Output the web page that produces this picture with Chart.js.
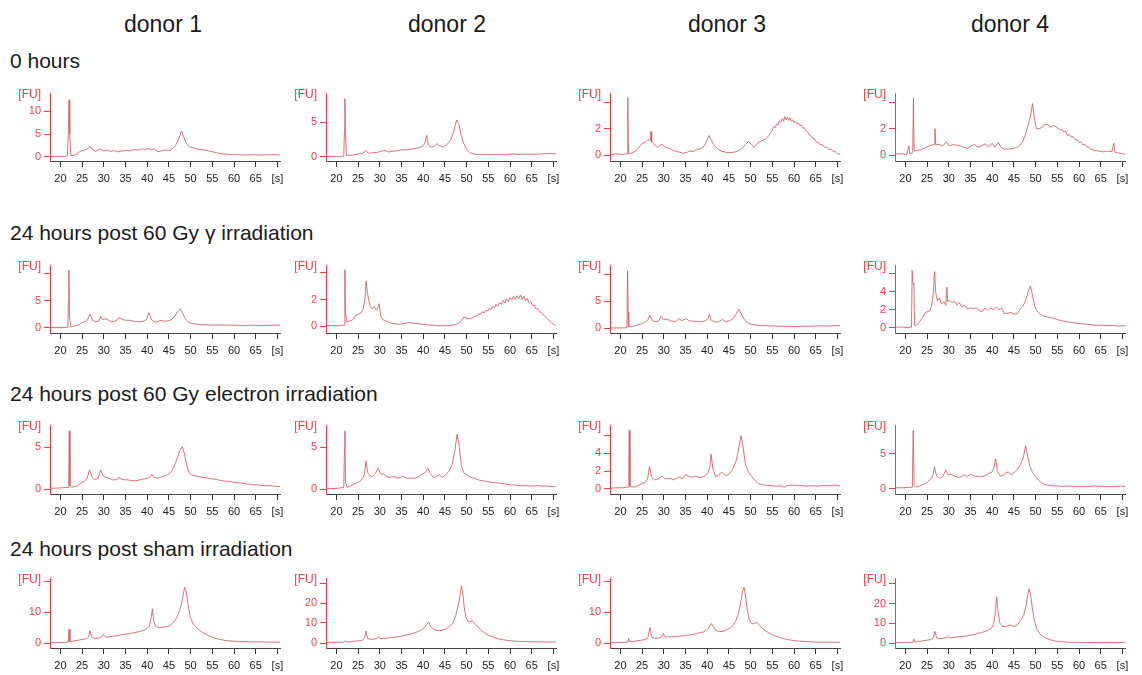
<!DOCTYPE html>
<html>
<head>
<meta charset="utf-8">
<script src="https://cdn.jsdelivr.net/npm/chart.js@4.4.1/dist/chart.umd.min.js"></script>
<style>
  body { margin: 0; background: #fff; width: 1142px; height: 675px; position: relative; overflow: hidden;
         font-family: "Liberation Sans", Arial, sans-serif; color: #1a1a1a; }
  .donor { position: absolute; top: 13px; width: 200px; text-align: center; font-size: 23px; line-height: 23px; }
  .cond { position: absolute; left: 10px; font-size: 21px; line-height: 21px; white-space: nowrap; }
  .panel { position: absolute; }
</style>
</head>
<body>
<script>
// column and row titles
const donors = ['donor 1', 'donor 2', 'donor 3', 'donor 4'];
const conditions = ['0 hours', '24 hours post 60 Gy γ irradiation',
    '24 hours post 60 Gy electron irradiation', '24 hours post sham irradiation'];

// x axis ticks, last one shows the unit
const timeTicks = [20, 25, 30, 35, 40, 45, 50, 55, 60, 65, 70];
const timeLabels = ['20', '25', '30', '35', '40', '45', '50', '55', '60', '65', '[s]'];

// y ticks per panel (row by row), '' = unlabeled tick
const fuTicks = [
    [0, 5, 10], [0, 5], [0, 2, 4], [0, 2, 4],
    [0, 5, 10], [0, 2, 4], [0, 5, 10], [0, 2, 4, 6],
    [0, 5], [0, 5], [0, 2, 4, 6], [0, 5],
    [0, 10, 20], [0, 10, 20, 30], [0, 10, 20], [0, 10, 20, 30]
];
const fuTickLabels = [
    ['0', '5', '10'], ['0', '5'], ['0', '2', ''], ['0', '2', ''],
    ['0', '5', ''], ['0', '2', ''], ['0', '5', ''], ['0', '2', '4', ''],
    ['0', '5'], ['0', '5'], ['0', '2', '4', ''], ['0', '5'],
    ['0', '10', ''], ['0', '10', '20', ''], ['0', '10', ''], ['0', '10', '20', '']
];

// electropherograms: [time (s), FU]
const d1_0h = [[17.6,0.1],[19,0.1],[20.5,0.1],[21.6,0.2],[21.85,6],[22.0,12.5],[22.15,5],[22.4,0.3],[23,0.3],[23.8,0.6],[24.5,1.2],[25.2,1.5],[26,1.6],[26.8,2.3],[27.4,1.6],[28.2,1.2],[29.2,1.8],[29.8,1.3],[30.6,1.5],[31.5,1.2],[32.4,1.4],[33.3,1.1],[34.2,1.3],[35.2,1.4],[36,1.3],[37,1.6],[38,1.5],[39,1.8],[39.6,1.5],[40.2,1.9],[41,1.5],[41.6,1.8],[42.5,1.1],[43.5,1.4],[44.5,1.5],[45.3,1.4],[46,2.0],[46.7,2.8],[47.3,4.0],[47.9,5.7],[48.5,4.2],[49.1,2.8],[49.8,2.2],[50.6,2.0],[51.5,1.7],[52.4,1.6],[53.3,1.5],[54.2,1.3],[55.1,1.1],[56,0.9],[57,0.7],[58,0.6],[59,0.5],[60,0.5],[61.5,0.45],[63,0.4],[64.5,0.5],[66,0.4],[67.5,0.45],[69,0.5],[70.6,0.4]];
const d2_0h = [[17.6,0.05],[19,0.05],[20.5,0.05],[21.7,0.1],[21.85,4],[21.95,8.4],[22.1,3],[22.3,0.2],[23,0.2],[24,0.3],[25,0.4],[26,0.5],[26.8,0.9],[27.4,0.5],[28.3,0.6],[29.2,0.6],[30.2,0.8],[31.3,0.9],[32,0.7],[33,0.8],[34,0.9],[35,1.0],[36,1.0],[37,1.1],[38,1.2],[39,1.3],[39.8,1.5],[40.4,2.0],[40.8,3.1],[41.2,1.7],[41.8,1.4],[42.5,1.5],[43.2,1.9],[43.8,1.6],[44.6,1.4],[45.5,1.8],[46.3,2.4],[47,3.6],[47.7,5.3],[48.2,4.8],[48.7,3.2],[49.3,2.0],[50,1.1],[50.8,0.6],[51.7,0.4],[53,0.3],[54.5,0.35],[56,0.3],[57.5,0.35],[59,0.3],[60.5,0.4],[62,0.35],[63.5,0.4],[65,0.35],[66.5,0.4],[68,0.45],[69.3,0.5],[70.6,0.4]];
const d3_0h = [[17.6,0.05],[19,0.1],[20.5,0.05],[21.55,0.1],[21.7,4.4],[21.85,0.1],[22.5,0.15],[23.5,0.3],[24.3,0.6],[25,0.9],[25.8,1.0],[26.4,1.2],[26.9,1.1],[27.05,1.8],[27.2,1.0],[27.8,0.8],[28.6,0.6],[29.6,0.85],[30.4,0.6],[31.3,0.5],[32.3,0.35],[33.3,0.25],[34.3,0.15],[35.2,0.2],[36,0.3],[37,0.3],[37.8,0.45],[38.6,0.5],[39.3,0.7],[39.9,1.1],[40.4,1.5],[40.9,1.2],[41.5,0.8],[42.3,0.5],[43.3,0.3],[44.5,0.2],[45.8,0.2],[47,0.3],[48,0.5],[48.8,0.8],[49.5,1.05],[50.2,0.8],[50.8,0.6],[51.6,0.9],[52.5,1.1],[53.4,1.2],[54.2,1.5],[54.6,1.7],[55,1.9],[55.3,2.2],[55.7,2.1],[56,2.4],[56.3,2.3],[56.6,2.6],[57,2.5],[57.3,2.8],[57.6,2.6],[57.9,2.95],[58.2,2.7],[58.5,2.9],[58.8,2.65],[59.1,2.85],[59.4,2.6],[59.7,2.7],[60,2.5],[60.3,2.6],[60.7,2.4],[61,2.45],[61.4,2.25],[61.7,2.3],[62.1,2.05],[62.4,2.1],[62.8,1.85],[63.2,1.75],[63.6,1.5],[64,1.45],[64.4,1.25],[64.8,1.2],[65.2,1.0],[65.6,1.0],[66,0.8],[66.5,0.8],[67,0.6],[67.5,0.6],[68,0.45],[68.5,0.45],[69,0.3],[69.5,0.25],[70,0.1],[70.6,0.05]];
const d4_0h = [[17.6,0.1],[19,0.1],[20.3,0.05],[20.8,0.7],[21.0,0.1],[21.7,0.2],[21.85,4.3],[22.0,0.3],[22.6,0.35],[23.5,0.4],[24.3,0.5],[25.2,0.65],[26,0.75],[26.6,0.8],[26.8,2.0],[27.0,0.8],[27.8,0.8],[28.6,0.7],[29.4,1.0],[30.1,0.7],[31,0.8],[31.8,0.75],[32.6,0.7],[33.4,0.6],[34.3,0.5],[35.2,0.7],[35.9,0.8],[36.7,0.6],[37.5,0.7],[38.4,0.85],[39.2,0.6],[40,0.9],[40.6,0.6],[41.4,0.95],[42,0.6],[42.8,0.45],[43.8,0.45],[44.8,0.5],[45.6,0.55],[46.3,0.7],[47,1.0],[47.7,1.6],[48.3,2.3],[48.8,2.9],[49.3,3.9],[49.7,2.8],[50.2,2.0],[50.8,2.0],[51.5,2.1],[52.1,2.35],[52.8,2.3],[53.5,2.1],[54.2,2.25],[54.9,2.1],[55.7,1.9],[56.1,1.95],[56.5,1.75],[56.9,1.8],[57.3,1.5],[57.8,1.55],[58.2,1.35],[58.6,1.4],[59.1,1.15],[59.5,1.2],[60,0.95],[60.4,1.0],[60.9,0.75],[61.4,0.8],[61.8,0.6],[62.2,0.62],[62.7,0.45],[63.6,0.35],[64.6,0.3],[65.6,0.25],[66.6,0.3],[67.6,0.25],[68.0,0.9],[68.3,0.2],[69.2,0.15],[70.6,0.05]];

const d1_gamma = [[17.6,0.05],[19,0.05],[20.5,0.05],[21.7,0.1],[21.85,5],[21.95,10.7],[22.1,2],[22.4,0.2],[23.2,0.3],[24,0.5],[24.8,0.9],[25.6,1.1],[26.2,1.4],[26.8,2.5],[27.4,1.4],[28.2,1.1],[28.9,1.3],[29.3,2.1],[29.8,1.5],[30.5,1.7],[31.3,1.3],[32.2,1.1],[33,1.4],[33.5,1.9],[34.2,1.6],[35,1.4],[36,1.4],[37,1.2],[38,1.1],[39,1.2],[39.8,1.5],[40.4,2.8],[41,1.5],[41.7,1.0],[42.5,1.2],[43.2,1.4],[44,1.2],[44.8,1.3],[45.6,1.5],[46.4,2.2],[47.2,3.2],[47.6,3.5],[48.1,2.8],[48.7,1.8],[49.4,1.1],[50.2,0.8],[51.2,0.7],[52.5,0.6],[54,0.55],[55.5,0.5],[57,0.55],[58.5,0.5],[60,0.5],[61.5,0.45],[63,0.4],[64.5,0.5],[66,0.4],[67.5,0.45],[69,0.5],[70.6,0.5]];
const d2_gamma = [[17.6,0.05],[19,0.05],[20.5,0.05],[21.8,0.1],[21.95,4.25],[22.1,1.0],[22.4,0.3],[23,0.4],[23.8,0.5],[24.4,0.8],[25,0.9],[25.6,1.0],[26.2,1.3],[26.6,2.2],[26.85,3.4],[27.2,2.4],[27.7,1.6],[28.2,1.3],[28.7,1.5],[29.2,1.2],[29.6,1.4],[29.85,1.7],[30.2,0.8],[30.7,0.5],[31.5,0.4],[32.5,0.25],[33.5,0.2],[34.5,0.15],[35.5,0.2],[36.3,0.25],[37,0.3],[38,0.2],[39,0.2],[40,0.15],[41,0.1],[42,0.1],[43,0.05],[44,0.05],[45,0.05],[46,0.05],[47,0.1],[48,0.2],[48.8,0.4],[49.4,0.7],[50,0.6],[50.8,0.55],[51.6,0.7],[52.4,0.8],[52.8,0.95],[53.2,0.9],[53.6,1.1],[54,1.0],[54.4,1.2],[54.8,1.15],[55.2,1.35],[55.6,1.25],[56,1.5],[56.4,1.4],[56.8,1.65],[57.2,1.5],[57.6,1.8],[58,1.65],[58.4,1.95],[58.8,1.75],[59.2,2.05],[59.6,1.85],[60,2.15],[60.4,1.95],[60.8,2.25],[61.2,2.0],[61.6,2.3],[62,2.05],[62.4,2.35],[62.8,2.0],[63.2,2.25],[63.6,1.9],[64,2.1],[64.4,1.75],[64.8,1.85],[65.2,1.55],[65.6,1.6],[66,1.3],[66.4,1.35],[66.8,1.1],[67.2,1.05],[67.6,0.85],[68,0.8],[68.5,0.6],[69,0.45],[69.5,0.3],[70,0.15],[70.6,0.05]];
const d3_gamma = [[17.6,0.05],[19,0.05],[20.5,0.05],[21.5,0.1],[21.65,10.7],[21.8,3],[21.9,0.3],[22.6,0.3],[23.5,0.5],[24.3,0.7],[25.1,0.9],[25.8,1.2],[26.3,1.5],[26.8,2.4],[27.4,1.4],[28.2,1.2],[28.9,1.4],[29.3,2.2],[29.9,1.6],[30.7,1.7],[31.5,1.4],[32.3,1.2],[33,1.4],[33.5,1.8],[34.1,1.4],[34.7,1.6],[35.1,1.8],[35.8,1.4],[36.7,1.3],[37.7,1.2],[38.7,1.2],[39.6,1.4],[40.2,1.8],[40.5,2.6],[40.9,1.5],[41.6,1.2],[42.4,1.1],[43.2,1.5],[43.6,1.6],[44.3,1.2],[45.1,1.4],[45.9,1.7],[46.6,2.6],[47.3,3.5],[47.8,2.8],[48.4,1.8],[49.1,1.1],[49.9,0.8],[51,0.6],[52.5,0.5],[54,0.45],[55.5,0.4],[57,0.35],[58.5,0.35],[60,0.3],[61.5,0.35],[63,0.35],[64.5,0.4],[66,0.45],[67.5,0.4],[69,0.45],[70.6,0.5]];
const d4_gamma = [[17.6,0.1],[19,0.1],[20.5,0.05],[21.4,0.1],[21.55,6.3],[21.75,4.8],[21.95,4.9],[22.1,0.3],[22.6,0.3],[23.3,0.7],[24,1.2],[24.6,1.7],[25.2,1.8],[25.7,1.9],[26.1,2.6],[26.4,3.6],[26.7,6.2],[27,3.8],[27.4,3.0],[27.9,3.3],[28.3,2.6],[28.8,2.9],[29.3,2.5],[29.55,4.5],[29.75,2.9],[30.2,3.0],[30.8,2.8],[31.4,2.9],[31.9,2.5],[32.4,2.8],[33,2.3],[33.6,2.5],[34.2,2.1],[34.9,2.2],[35.6,2.1],[36.3,2.2],[37,1.9],[37.7,1.8],[38.4,2.2],[39,1.9],[39.6,2.2],[40.3,2.0],[41,2.3],[41.6,2.0],[42.2,2.2],[42.7,1.6],[43.5,1.6],[44.3,1.7],[45.1,1.5],[45.8,1.6],[46.5,2.1],[47.1,2.4],[47.7,3.0],[48.3,4.0],[48.8,4.6],[49.3,3.6],[49.8,2.4],[50.4,1.8],[51.1,1.5],[51.9,1.3],[52.8,1.2],[53.7,1.1],[54.6,1.0],[55.5,0.85],[56.5,0.75],[57.5,0.65],[58.5,0.6],[59.6,0.5],[60.7,0.45],[61.8,0.4],[63,0.35],[64.2,0.3],[65.4,0.3],[66.6,0.25],[67.8,0.3],[69,0.2],[70.6,0.25]];

const d1_electron = [[17.6,0.1],[19,0.1],[20.5,0.15],[21.9,0.2],[22.05,7.0],[22.2,0.4],[22.6,0.2],[23.3,0.3],[24,0.4],[24.7,0.7],[25.4,0.9],[26.1,1.2],[26.7,2.3],[27.3,1.4],[28,1.1],[28.7,1.3],[29.3,2.3],[29.8,1.6],[30.5,1.4],[31.2,1.3],[32,1.1],[32.8,1.1],[33.5,1.4],[34.1,1.2],[34.8,1.1],[35.6,1.1],[36.5,1.0],[37.4,1.0],[38.3,1.1],[39.2,1.2],[40,1.3],[40.6,1.4],[41.1,1.8],[41.6,1.4],[42.3,1.3],[43,1.4],[43.8,1.5],[44.6,1.7],[45.4,2.0],[46.1,2.6],[46.8,3.5],[47.5,4.6],[48.1,5.1],[48.6,4.2],[49.1,2.9],[49.6,2.0],[50.2,1.7],[51,1.6],[51.8,1.5],[52.7,1.4],[53.6,1.35],[54.5,1.25],[55.4,1.2],[56.3,1.1],[57.2,1.0],[58.1,0.95],[59,0.9],[60,0.8],[61,0.75],[62,0.7],[63,0.6],[64,0.55],[65,0.5],[66,0.45],[67,0.4],[68,0.4],[69,0.35],[70.6,0.3]];
const d2_electron = [[17.6,0.05],[19,0.05],[20.5,0.1],[21.7,0.2],[21.85,4.9],[21.95,7.0],[22.1,0.8],[22.5,0.2],[23.3,0.4],[24.1,0.6],[24.9,0.8],[25.6,1.0],[26.2,1.4],[26.5,1.9],[26.8,3.4],[27.2,2.0],[27.7,1.6],[28.3,1.5],[29,1.9],[29.6,2.5],[30.2,1.8],[30.9,1.8],[31.6,1.5],[32.4,1.4],[33.2,1.5],[34,1.3],[34.7,1.4],[35.3,1.5],[36.1,1.3],[37,1.3],[38,1.3],[39,1.5],[39.8,1.8],[40.5,2.0],[41.1,2.5],[41.6,1.9],[42.3,1.4],[43,1.5],[43.7,1.7],[44.4,1.4],[45.2,1.7],[46,2.2],[46.7,3.0],[47.3,4.6],[47.8,6.6],[48.3,5.2],[48.8,2.8],[49.4,1.9],[50.1,1.7],[50.9,1.4],[51.8,1.3],[52.7,1.1],[53.6,1.0],[54.6,0.9],[55.6,0.8],[56.7,0.75],[57.8,0.7],[59,0.6],[60.2,0.5],[61.4,0.45],[62.6,0.4],[63.8,0.4],[65,0.35],[66.2,0.4],[67.4,0.35],[68.6,0.35],[69.8,0.3],[70.6,0.3]];
const d3_electron = [[17.6,0.05],[19,0.1],[20.5,0.1],[21.8,0.2],[21.95,4.0],[22.05,6.6],[22.2,0.3],[22.7,0.2],[23.5,0.2],[24.3,0.4],[25,0.6],[25.7,0.7],[26.3,1.2],[26.7,2.5],[27.2,1.3],[27.9,1.0],[28.7,1.1],[29.6,1.4],[30.4,1.1],[31.3,1.2],[32.2,1.0],[33.1,1.2],[33.6,1.3],[34.3,1.1],[35,1.6],[35.7,1.4],[36.5,1.3],[37.3,1.4],[38.1,1.3],[38.9,1.3],[39.6,1.5],[40.2,1.8],[40.6,2.4],[40.9,3.9],[41.3,2.3],[41.9,1.4],[42.6,1.5],[43.3,1.9],[43.9,1.6],[44.6,1.5],[45.3,1.8],[46,2.3],[46.7,3.2],[47.3,4.7],[47.8,6.0],[48.3,4.6],[48.8,2.8],[49.4,2.0],[50.1,1.5],[50.9,1.0],[51.7,0.6],[52.6,0.45],[53.6,0.4],[54.8,0.35],[56,0.3],[57.2,0.3],[57.8,0.15],[58.4,0.35],[59.6,0.4],[60.8,0.35],[62,0.35],[63.2,0.3],[64.4,0.35],[65.6,0.3],[66.8,0.35],[68,0.35],[69.2,0.4],[70.6,0.3]];
const d4_electron = [[17.6,0.1],[19,0.1],[20.5,0.15],[21.6,0.2],[21.8,8.4],[22.0,0.4],[22.6,0.2],[23.4,0.4],[24.2,0.6],[25,0.9],[25.7,1.3],[26.3,1.8],[26.7,3.1],[27.2,1.8],[27.9,1.5],[28.6,1.7],[29.3,2.7],[29.8,2.0],[30.5,2.1],[31.3,1.8],[32.1,1.6],[32.9,1.7],[33.6,2.0],[34.3,1.7],[35,2.1],[35.8,1.8],[36.7,1.7],[37.6,1.7],[38.5,1.9],[39.3,2.2],[40,2.4],[40.4,3.0],[40.8,4.3],[41.2,2.6],[41.8,1.8],[42.5,1.9],[43.2,2.3],[43.7,2.4],[44.4,2.0],[45.2,2.4],[45.9,2.8],[46.6,3.6],[47.2,4.6],[47.7,6.2],[48.2,4.6],[48.7,3.2],[49.3,2.3],[50,1.7],[50.7,1.2],[51.4,0.8],[52.1,0.55],[53,0.45],[54,0.4],[55.2,0.35],[56.4,0.3],[57.6,0.35],[58.8,0.3],[60,0.3],[61.2,0.3],[62.4,0.3],[63.6,0.35],[64.8,0.3],[66,0.3],[67.2,0.3],[68.4,0.3],[69.6,0.35],[70.6,0.3]];

const d1_sham = [[17.6,0.1],[19,0.1],[20.5,0.2],[21.8,0.3],[22.0,4.5],[22.2,0.5],[22.8,0.6],[23.6,0.8],[24.4,1.0],[25.2,1.2],[26,1.4],[26.5,2.0],[26.8,4.0],[27.2,1.8],[27.9,1.5],[28.7,1.6],[29.5,2.0],[29.9,2.8],[30.4,1.9],[31.2,2.0],[32,2.2],[32.8,2.3],[33.6,2.6],[34.4,2.7],[35.2,2.9],[36,3.0],[36.8,3.3],[37.6,3.5],[38.4,3.8],[39.2,4.2],[39.9,4.6],[40.5,5.5],[40.9,8.0],[41.2,11.0],[41.5,7.0],[42,5.3],[42.7,5.0],[43.4,5.1],[44.2,5.2],[44.9,5.5],[45.6,6.0],[46.3,7.0],[46.9,8.5],[47.5,10.5],[48.1,14.0],[48.6,18.0],[49,16.5],[49.4,12.5],[49.9,8.5],[50.5,6.5],[51.2,5.2],[52,4.2],[52.8,3.4],[53.7,2.7],[54.6,2.1],[55.6,1.6],[56.6,1.2],[57.7,0.9],[58.8,0.7],[60,0.6],[61.3,0.5],[62.6,0.45],[64,0.4],[65.4,0.4],[66.8,0.35],[68.2,0.3],[70.6,0.3]];
const d2_sham = [[17.6,0.3],[19,0.3],[20.5,0.4],[21.8,0.5],[22.1,1.2],[22.4,0.6],[23.3,0.7],[24.2,0.9],[25.1,1.1],[26,1.4],[26.5,2.5],[26.8,6.0],[27.2,2.3],[27.9,1.8],[28.7,1.9],[29.4,2.4],[29.7,3.2],[30.1,2.2],[31,2.3],[31.9,2.5],[32.8,2.7],[33.7,3.0],[34.6,3.3],[35.5,3.7],[36.4,4.1],[37.3,4.6],[38.2,5.2],[39,5.9],[39.8,6.8],[40.4,8.0],[40.9,9.5],[41.3,10.5],[41.7,8.5],[42.3,7.0],[43,6.3],[43.8,6.2],[44.6,6.5],[45.4,7.2],[46.1,8.3],[46.8,10.0],[47.4,13.0],[48,18.0],[48.5,24.0],[48.8,28.5],[49.1,25.0],[49.5,17.0],[49.9,12.5],[50.4,10.5],[50.9,10.8],[51.3,11.2],[51.9,9.5],[52.6,8.0],[53.4,6.3],[54.3,4.8],[55.2,3.7],[56.2,2.8],[57.3,2.1],[58.5,1.6],[59.8,1.2],[61.2,0.9],[62.6,0.8],[64,0.7],[65.5,0.6],[67,0.6],[68.5,0.5],[70.6,0.5]];
const d3_sham = [[17.6,0.1],[19,0.1],[20.5,0.2],[21.7,0.3],[21.9,1.5],[22.1,0.4],[22.9,0.5],[23.8,0.7],[24.7,0.9],[25.6,1.1],[26.3,1.6],[26.8,5.0],[27.2,1.9],[27.9,1.5],[28.7,1.6],[29.5,2.0],[29.9,3.0],[30.3,1.9],[31.1,2.0],[31.9,2.0],[32.7,2.1],[33.5,2.2],[34.3,2.3],[35.1,2.5],[35.9,2.6],[36.7,2.8],[37.5,3.0],[38.3,3.3],[39.1,3.6],[39.8,4.1],[40.4,5.0],[40.9,6.3],[41.3,5.6],[41.8,4.3],[42.5,3.8],[43.2,3.7],[43.9,3.9],[44.6,4.3],[45.3,4.9],[46,5.8],[46.6,7.3],[47.2,9.5],[47.7,13.0],[48.2,17.0],[48.5,18.0],[48.8,15.5],[49.2,11.0],[49.7,7.5],[50.3,6.2],[50.9,6.3],[51.4,6.6],[52,5.8],[52.7,4.8],[53.5,3.9],[54.4,3.1],[55.3,2.5],[56.3,2.0],[57.4,1.5],[58.6,1.1],[59.9,0.8],[61.3,0.6],[62.7,0.5],[64.2,0.4],[65.7,0.3],[67.3,0.3],[68.9,0.25],[70.6,0.2]];
const d4_sham = [[17.6,0.2],[19,0.2],[20.5,0.3],[21.7,0.4],[21.9,2.0],[22.1,0.5],[23,0.8],[24,1.1],[25,1.5],[25.9,1.8],[26.4,2.6],[26.8,6.0],[27.2,2.6],[27.9,2.2],[28.7,2.4],[29.5,2.8],[29.9,3.5],[30.3,2.7],[31.2,2.9],[32.1,3.1],[33,3.3],[33.9,3.6],[34.8,3.9],[35.7,4.3],[36.6,4.8],[37.5,5.3],[38.3,5.9],[39.1,6.6],[39.8,7.6],[40.3,9.5],[40.7,15.0],[41,23.5],[41.3,17.0],[41.7,10.5],[42.3,8.5],[43,8.3],[43.7,8.8],[44.3,9.2],[44.9,8.4],[45.5,8.8],[46.1,10.0],[46.7,11.8],[47.3,14.5],[47.8,19.0],[48.2,24.5],[48.5,27.5],[48.8,25.0],[49.2,18.5],[49.7,11.5],[50.3,7.0],[51,4.6],[51.8,3.2],[52.7,2.2],[53.7,1.5],[54.8,1.0],[56,0.7],[57.3,0.5],[58.7,0.4],[60.2,0.35],[61.8,0.3],[63.5,0.3],[65.2,0.3],[67,0.25],[68.8,0.3],[70.6,0.3]];

const traces = [
    d1_0h, d2_0h, d3_0h, d4_0h,
    d1_gamma, d2_gamma, d3_gamma, d4_gamma,
    d1_electron, d2_electron, d3_electron, d4_electron,
    d1_sham, d2_sham, d3_sham, d4_sham
];

// ---- layout / look ----
const RED = '#e8404a';
const TRACE = 'rgba(205, 92, 95, 0.85)';
const colX = [50, 326, 610, 895];          // y axis x position
const rowTop = [93, 265, 425, 578];        // top of y axis
const rowH = [68, 68, 69, 70];             // y axis length
const donorCenter = [163, 447, 727, 1010];
const condTop = [50, 222, 383, 538];
// y range per panel [min, max]
const yRange = [
    [-0.9, 14], [-0.6, 9.2], [-0.45, 4.75], [-0.45, 4.7],
    [-0.95, 11.6], [-0.5, 4.6], [-0.9, 11.8], [-0.55, 6.9],
    [-0.6, 7.7], [-0.6, 7.7], [-0.6, 7.2], [-0.8, 9.2],
    [-1.6, 21], [-2.5, 32.5], [-1.6, 21], [-2.5, 33]
];

Chart.defaults.font.family = '"Liberation Sans", Arial, sans-serif';
Chart.defaults.font.size = 11;

donors.forEach((d, i) => {
    const el = document.createElement('div');
    el.className = 'donor';
    el.style.left = (donorCenter[i] - 100) + 'px';
    el.textContent = d;
    document.body.appendChild(el);
});
conditions.forEach((c, i) => {
    const el = document.createElement('div');
    el.className = 'cond';
    el.style.top = condTop[i] + 'px';
    el.textContent = c;
    document.body.appendChild(el);
});

// "[FU]" unit label at the top of the y axis
const fuLabel = {
    id: 'fuLabel',
    afterDraw(chart) {
        const { ctx, chartArea } = chart;
        ctx.save();
        ctx.font = '12px "Liberation Sans", Arial, sans-serif';
        ctx.fillStyle = RED;
        ctx.textAlign = 'right';
        ctx.textBaseline = 'middle';
        ctx.fillText('[FU]', chartArea.left - 9, chartArea.top + 2);
        ctx.restore();
    }
};

traces.forEach((trace, i) => {
    const row = Math.floor(i / 4), col = i % 4;
    const w = 40 + 230 + 14, h = 16 + rowH[row] + 28;
    const wrap = document.createElement('div');
    wrap.className = 'panel';
    wrap.style.left = (colX[col] - 40) + 'px';
    wrap.style.top = (rowTop[row] - 16) + 'px';
    const canvas = document.createElement('canvas');
    canvas.width = w;
    canvas.height = h;
    canvas.style.width = w + 'px';
    canvas.style.height = h + 'px';
    wrap.appendChild(canvas);
    document.body.appendChild(wrap);

    const yt = fuTicks[i], yl = fuTickLabels[i];

    new Chart(canvas.getContext('2d'), {
        type: 'line',
        data: {
            datasets: [{
                data: trace.map(p => ({ x: p[0], y: p[1] })),
                borderColor: TRACE,
                borderWidth: 1,
                pointRadius: 0,
                tension: 0
            }]
        },
        options: {
            responsive: false,
            animation: false,
            devicePixelRatio: 1,
            layout: { padding: { top: 16, right: 14, left: 0, bottom: 0 } },
            plugins: { legend: { display: false }, tooltip: { enabled: false } },
            scales: {
                x: {
                    type: 'linear',
                    min: 17.6,
                    max: 70.6,
                    afterBuildTicks: s => { s.ticks = timeTicks.map(v => ({ value: v })); },
                    afterFit: s => { s.height = 28; },
                    ticks: {
                        autoSkip: false,
                        maxRotation: 0,
                        padding: 5,
                        color: '#222',
                        callback: (v) => timeLabels[timeTicks.indexOf(v)]
                    },
                    grid: { drawOnChartArea: false, drawTicks: true, tickLength: 6, color: '#333' },
                    border: { display: true, color: '#444', width: 1 }
                },
                y: {
                    min: yRange[i][0],
                    max: yRange[i][1],
                    afterBuildTicks: s => { s.ticks = yt.map(v => ({ value: v })); },
                    afterFit: s => { s.width = 40; },
                    ticks: {
                        padding: 3,
                        color: RED,
                        callback: (v) => yl[yt.indexOf(v)]
                    },
                    grid: { drawOnChartArea: false, drawTicks: true, tickLength: 6, color: RED },
                    border: { display: true, color: RED, width: 1 }
                }
            }
        },
        plugins: [fuLabel]
    });
});
</script>
</body>
</html>
